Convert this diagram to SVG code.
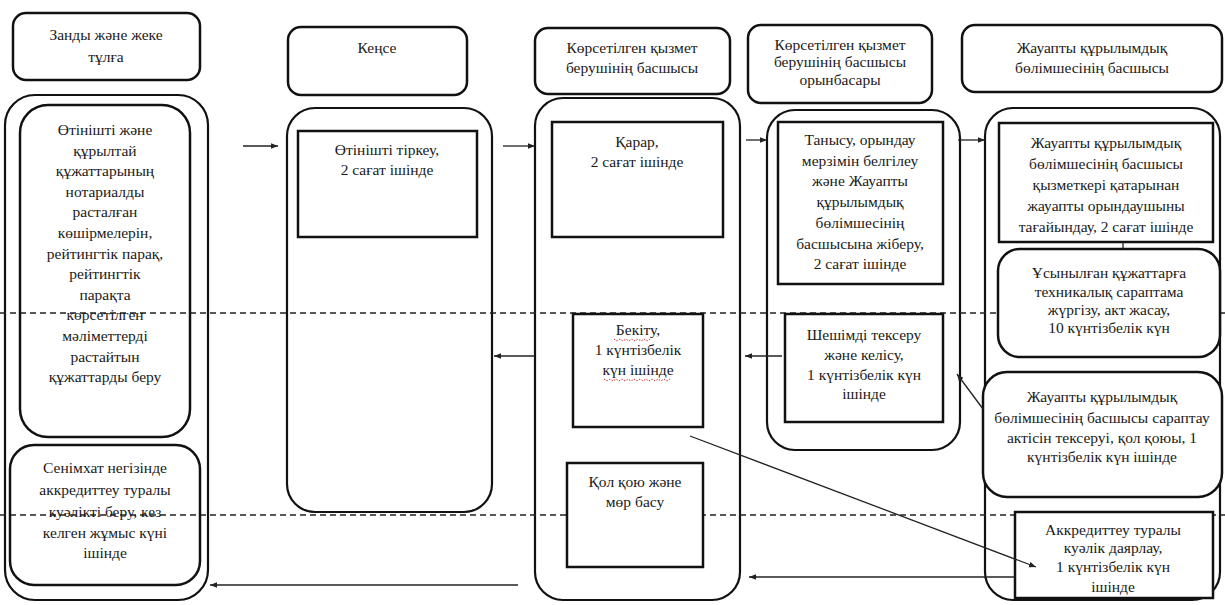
<svg xmlns="http://www.w3.org/2000/svg" width="1225" height="605" viewBox="0 0 1225 605" font-family="'Liberation Serif', 'Times New Roman', 'DejaVu Serif', serif">
<defs>
<style>
text{font-family:'Liberation Serif','Times New Roman','DejaVu Serif',serif;font-size:15.5px;fill:#1a1a1a;text-anchor:middle}
.hd{fill:#fff;stroke:#111;stroke-width:2.5}
.lane{fill:none;stroke:#111;stroke-width:2.2}
.box{fill:none;stroke:#111;stroke-width:2.5}
.boxw{fill:#fff;stroke:#111;stroke-width:2.5}
.dash{stroke:#222;stroke-width:1.4;stroke-dasharray:6 4;fill:none}
.con{stroke:#222;stroke-width:1.3;fill:none;marker-end:url(#ah)}
.sq{stroke:#d22;stroke-width:1;fill:none;stroke-dasharray:1.5 1.5}
</style>
<marker id="ah" viewBox="0 0 10 10" refX="10" refY="5" markerWidth="7" markerHeight="7" markerUnits="userSpaceOnUse" orient="auto">
<path d="M0,1 L10,5 L0,9 z" fill="#222"/>
</marker>
</defs>
<rect width="1225" height="605" fill="#fff"/>

<!-- headers -->
<g id="h1"><rect class="hd" x="13" y="13" width="187" height="67" rx="13"/>
<text x="106" y="40">Занды және жеке</text><text x="106" y="62">тұлға</text></g>
<g id="h2"><rect class="hd" x="288" y="27" width="179" height="68" rx="13"/>
<text x="377" y="53">Кеңсе</text></g>
<g id="h3"><rect class="hd" x="535" y="28" width="195" height="66" rx="13"/>
<text x="632" y="53">Көрсетілген қызмет</text><text x="632" y="73">берушінің басшысы</text></g>
<g id="h4"><rect class="hd" x="748" y="25" width="184" height="78" rx="13"/>
<text x="840" y="50">Көрсетілген қызмет</text><text x="840" y="67">берушінің басшысы</text><text x="840" y="85">орынбасары</text></g>
<g id="h5"><rect class="hd" x="962" y="25" width="260" height="67" rx="13"/>
<text x="1092" y="53">Жауапты құрылымдық</text><text x="1092" y="73">бөлімшесінің басшысы</text></g>

<!-- lanes -->
<g id="lane1"><rect class="lane" x="5" y="95" width="203" height="505" rx="30"/></g>
<g id="lane2"><rect class="lane" x="287" y="108" width="205" height="404" rx="28"/></g>
<g id="lane3"><rect class="lane" x="535" y="98" width="205" height="502" rx="28"/></g>
<g id="lane4"><rect class="lane" x="767" y="110" width="193" height="340" rx="28"/></g>
<g id="lane5"><rect class="lane" x="985" y="108" width="235" height="492" rx="28"/></g>

<!-- dashed separators -->
<g id="separators">
<line class="dash" x1="0" y1="313" x2="1225" y2="313"/>
<line class="dash" x1="0" y1="515" x2="1225" y2="515"/>
</g>

<!-- lane 1 nodes -->
<g id="n1a"><rect class="box" x="20" y="105" width="170" height="332" rx="28"/>
<text x="105" y="135">Өтінішті және</text>
<text x="105" y="155.6">құрылтай</text>
<text x="105" y="176.2">құжаттарының</text>
<text x="105" y="196.8">нотариалды</text>
<text x="105" y="217.4">расталған</text>
<text x="105" y="238">көшірмелерін,</text>
<text x="105" y="258.6">рейтингтік парақ,</text>
<text x="105" y="279.2">рейтингтік</text>
<text x="105" y="299.8">парақта</text>
<text x="105" y="320.4">көрсетілген</text>
<text x="105" y="341">мәліметтерді</text>
<text x="105" y="361.6">растайтын</text>
<text x="105" y="382.2">құжаттарды беру</text></g>
<g id="n1b"><rect class="box" x="10" y="445" width="190" height="140" rx="24"/>
<text x="105" y="473">Сенімхат негізінде</text>
<text x="105" y="495">аккредиттеу туралы</text>
<text x="105" y="517">куәлікті беру, кез</text>
<text x="105" y="538">келген жұмыс күні</text>
<text x="105" y="558">ішінде</text></g>

<!-- lane 2 node -->
<g id="n2"><rect class="box" x="298" y="131" width="179" height="106"/>
<text x="387" y="155">Өтінішті тіркеу,</text>
<text x="387" y="175">2 сағат ішінде</text></g>

<!-- lane 3 nodes -->
<g id="n3a"><rect class="box" x="552" y="122" width="171" height="115"/>
<text x="637" y="147">Қарар,</text>
<text x="637" y="167">2 сағат ішінде</text></g>
<g id="n3b"><rect class="boxw" x="573" y="314" width="130" height="113"/>
<text x="638" y="335">Бекіту,</text>
<text x="638" y="355">1 күнтізбелік</text>
<text x="638" y="375">күн ішінде</text>
<path class="sq" d="M614,339 l3,2 l3,-2 l3,2 l3,-2 l3,2 l3,-2 l3,2 l3,-2 l3,2 l3,-2 l3,2 l3,-2"/>
<path class="sq" d="M604,379 l3,2 l3,-2 l3,2 l3,-2 l3,2 l3,-2 l3,2 l3,-2 l3,2 l3,-2 l3,2 l3,-2 l3,2 l3,-2 l3,2 l3,-2 l3,2 l3,-2 l3,2 l3,-2 l3,2 l3,-2"/></g>
<g id="n3c"><rect class="boxw" x="567" y="463" width="136" height="104"/>
<text x="635" y="487">Қол қою және</text>
<text x="635" y="507">мөр басу</text></g>

<!-- lane 4 nodes -->
<g id="n4a"><rect class="box" x="778" y="122" width="165" height="162"/>
<text x="860" y="145">Танысу, орындау</text>
<text x="860" y="165.7">мерзімін белгілеу</text>
<text x="860" y="186.4">және Жауапты</text>
<text x="860" y="207.1">құрылымдық</text>
<text x="860" y="227.8">бөлімшесінің</text>
<text x="860" y="248.5">басшысына жіберу,</text>
<text x="860" y="269.2">2 сағат ішінде</text></g>
<g id="n4b"><rect class="boxw" x="785" y="314" width="158" height="108"/>
<text x="864" y="340">Шешімді тексеру</text>
<text x="864" y="360">және келісу,</text>
<text x="864" y="380">1 күнтізбелік күн</text>
<text x="864" y="399">ішінде</text></g>

<!-- lane 5 nodes -->
<g id="n5a"><rect class="box" x="999" y="123" width="214" height="119"/>
<text x="1106" y="148">Жауапты құрылымдық</text>
<text x="1106" y="169">бөлімшесінің басшысы</text>
<text x="1106" y="190">қызметкері қатарынан</text>
<text x="1106" y="211">жауапты орындаушыны</text>
<text x="1106" y="232">тағайындау, 2 сағат ішінде</text></g>
<g id="n5b"><rect class="boxw" x="998" y="249" width="222" height="108" rx="22"/>
<text x="1109" y="278">Ұсынылған құжаттарға</text>
<text x="1109" y="297">техникалық сараптама</text>
<text x="1109" y="315">жүргізу, акт жасау,</text>
<text x="1109" y="333">10 күнтізбелік күн</text></g>
<g id="n5c"><rect class="boxw" x="983" y="372" width="239" height="125" rx="24"/>
<text x="1102" y="402">Жауапты құрылымдық</text>
<text x="1102" y="423">бөлімшесінің басшысы сараптау</text>
<text x="1102" y="443">актісін тексеруі, қол қоюы, 1</text>
<text x="1102" y="462">күнтізбелік күн ішінде</text></g>
<g id="n5d"><rect class="boxw" x="1015" y="512" width="198" height="86"/>
<text x="1113" y="535">Аккредиттеу туралы</text>
<text x="1113" y="553">куәлік даярлау,</text>
<text x="1113" y="572">1 күнтізбелік күн</text>
<text x="1113" y="592">ішінде</text></g>

<!-- connectors -->
<g id="connectors">
<line class="con" x1="243" y1="146" x2="278" y2="146"/>
<line class="con" x1="503" y1="146" x2="535" y2="146"/>
<line class="con" x1="746" y1="140" x2="767" y2="140"/>
<line class="con" x1="958" y1="140" x2="985" y2="140"/>
<line stroke="#222" stroke-width="1.3" x1="1123" y1="242" x2="1123" y2="249"/>
<line class="con" x1="535" y1="356" x2="494" y2="356"/>
<line class="con" x1="782" y1="356" x2="745" y2="356"/>
<line class="con" x1="983" y1="409" x2="957" y2="374"/>
<line class="con" x1="690" y1="436" x2="1036" y2="567"/>
<line class="con" x1="1015" y1="577" x2="749" y2="577"/>
<line class="con" x1="518" y1="585" x2="210" y2="585"/>
</g>
</svg>
